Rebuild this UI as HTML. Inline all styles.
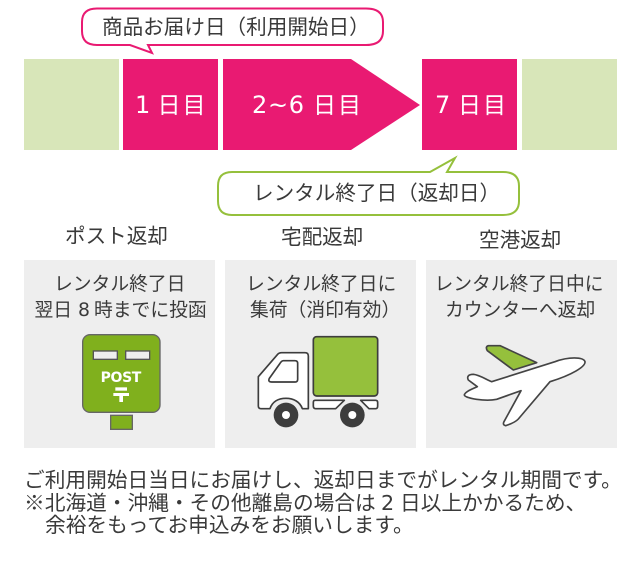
<!DOCTYPE html>
<html lang="ja"><head><meta charset="utf-8"><title>レンタル期間</title>
<style>
html,body{margin:0;padding:0;background:#fff;width:640px;height:570px;overflow:hidden}
svg{display:block}
text{font-family:"Noto Sans CJK JP","DejaVu Sans",sans-serif;fill:#3a3a3a}
.d{font-family:"DejaVu Sans",sans-serif}
.w{fill:#fff;font-size:23px}
.wd{fill:#fff;font-size:24px;font-family:"DejaVu Sans",sans-serif}
.l{font-size:20.6px}
.m{font-size:18.8px}
.b{font-size:20.7px}
</style></head><body>
<svg width="640" height="570" viewBox="0 0 640 570" xmlns="http://www.w3.org/2000/svg">
<rect x="24" y="59" width="95" height="91" fill="#d8e6b9"/>
<rect x="123" y="59" width="95" height="91" fill="#e91a72"/>
<polygon points="223,59 351,59 420,105 351,150 223,150" fill="#e91a72"/>
<rect x="422" y="59" width="95" height="91" fill="#e91a72"/>
<rect x="522" y="59" width="95" height="91" fill="#d8e6b9"/>
<text class="wd" x="135" y="113">1</text>
<text class="w" x="157.500" y="113" textLength="48">日目</text>
<text class="wd" x="252" y="113" textLength="52">2~6</text>
<text class="w" x="313" y="113" textLength="48">日目</text>
<text class="wd" x="435" y="113">7</text>
<text class="w" x="458" y="113" textLength="48">日目</text>

<path d="M97,8.500H366Q383,8.500 383,22V31Q383,45 366,45H148L152,53L130,45H97Q82,45 82,31V22Q82,8.500 97,8.500Z" fill="#fff" stroke="#e91a72" stroke-width="2"/>
<text class="l" x="102" y="34">商品お届け日（利用開始日）</text>
<path d="M232,172H430L455,158L447,172H503Q519,172 519,186V201Q519,215 503,215H232Q218,215 218,201V186Q218,172 232,172Z" fill="#fff" stroke="#95c03c" stroke-width="2"/>
<text class="l" x="253" y="200">レンタル終了日（返却日）</text>

<text class="l" x="65" y="243">ポスト返却</text>
<text class="l" x="281" y="244">宅配返却</text>
<text class="l" x="479" y="247">空港返却</text>

<rect x="24" y="260" width="191" height="188" fill="#eee"/>
<rect x="225" y="260" width="191" height="188" fill="#eee"/>
<rect x="426" y="260" width="191" height="188" fill="#eee"/>

<text class="m" x="54" y="290">レンタル終了日</text>
<text class="m" x="34.500" y="316">翌日</text>
<text class="m d" x="78" y="316">8</text>
<text class="m" x="94" y="316">時までに投函</text>
<text class="m" x="246" y="290">レンタル終了日に</text>
<text class="m" x="250" y="316">集荷（消印有効）</text>
<text class="m" x="434.500" y="290">レンタル終了日中に</text>
<text class="m" x="445" y="316">カウンターへ返却</text>

<!-- post -->
<g transform="translate(20,320) scale(.33333)">
<rect x="188" y="44" width="232" height="233" rx="22" fill="#80b01d" stroke="#666" stroke-width="4"/>
<rect x="220" y="93" width="72" height="25" fill="#eee" stroke="#555" stroke-width="4"/>
<rect x="317" y="93" width="72" height="25" fill="#eee" stroke="#555" stroke-width="4"/>
<rect x="272" y="286" width="65" height="42" fill="#80b01d" stroke="#666" stroke-width="4"/>
<text x="242" y="186" textLength="122" style="font-family:'DejaVu Sans',sans-serif;font-weight:bold;font-size:42px;fill:#fff">POST</text>
<rect x="286" y="202" width="35" height="10" fill="#fff"/>
<rect x="280" y="219" width="47" height="9" fill="#fff"/>
<rect x="298" y="219" width="11" height="27" fill="#fff"/>
</g>

<!-- truck -->
<g transform="translate(225,320) scale(.33333)" stroke="#3d3d3d" stroke-width="5" stroke-linejoin="round">
<rect x="265" y="50" width="193" height="178" rx="10" fill="#95c03c"/>
<path d="M100,170L158,103Q162,98 170,98H240Q250,98 250,108V266H232C225,245 205,235 183,235C160,235 142,245 135,266H108Q100,266 100,258Z" fill="#fff"/>
<path d="M175,122H210Q218,122 218,130V178Q218,186 210,186H140Q128,186 133,175L165,130Q170,122 175,122Z" fill="#fff"/>
<path d="M270,241H358L332,266H272Q265,266 265,258V248Q265,241 270,241Z" fill="#fff"/>
<path d="M407,241H452Q458,241 458,248V258Q458,266 452,266H432Z" fill="#fff"/>
<circle cx="183" cy="285" r="37" fill="#3d3d3d" stroke="none"/>
<circle cx="183" cy="285" r="12" fill="#fff" stroke="none"/>
<circle cx="382" cy="285" r="37" fill="#3d3d3d" stroke="none"/>
<circle cx="382" cy="285" r="12" fill="#fff" stroke="none"/>
</g>

<!-- plane -->
<g transform="translate(425,320) scale(.33333)" stroke="#444" stroke-width="5" stroke-linejoin="round">
<path d="M190,77H225L335,128L265,150L187,92Q180,80 190,77Z" fill="#95c03c"/>
<path d="M200,185L390,125C430,110 475,110 480,125C482,140 440,165 375,185L280,297Q270,308 242,317Q232,315 237,305L288,212L215,238C180,245 120,235 118,225C120,215 140,208 157,200L130,180C125,170 130,163 145,163C165,165 185,180 200,185Z" fill="#fff"/>
</g>

<text class="b" x="24" y="487">ご利用開始日当日にお届けし、返却日までがレンタル期間です。</text>
<text class="b" x="24" y="510">※北海道・沖縄・その他離島の場合は</text>
<text class="b d" x="381" y="510">2</text>
<text class="b" x="400" y="510">日以上かかるため、</text>
<text class="b" x="45" y="532">余裕をもってお申込みをお願いします。</text>
</svg>
</body></html>
